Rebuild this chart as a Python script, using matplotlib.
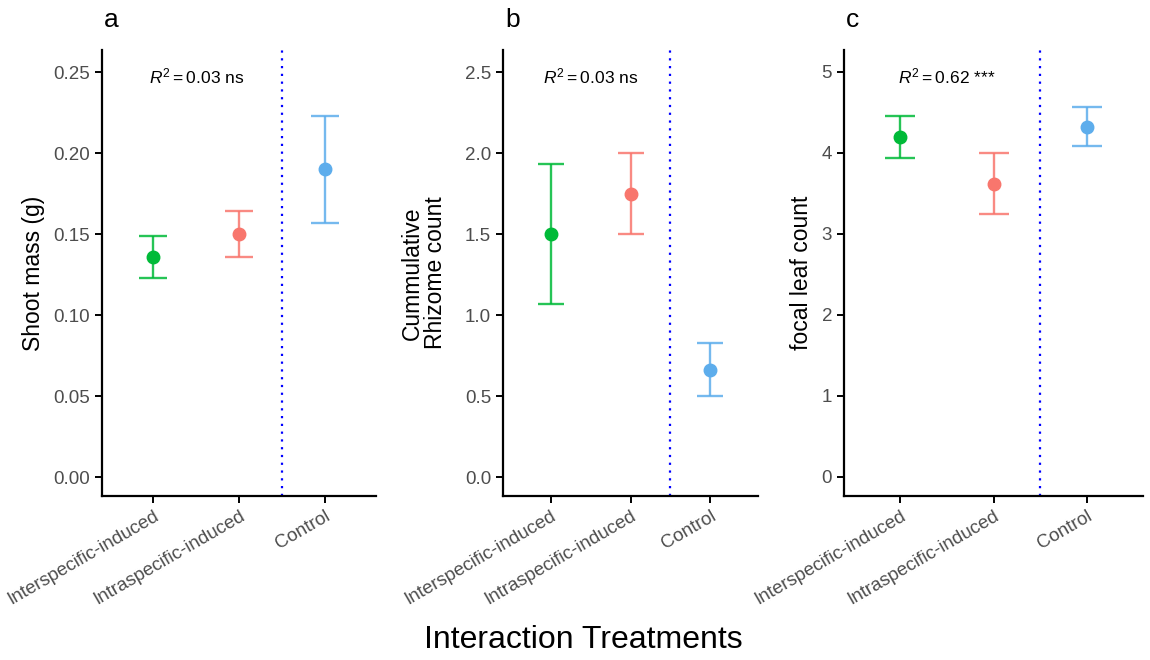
import numpy as np
import matplotlib
matplotlib.use("Agg")
import matplotlib.pyplot as plt

plt.rcParams['font.family'] = ['Liberation Sans', 'DejaVu Sans']
plt.rcParams['mathtext.fontset'] = 'custom'
plt.rcParams['mathtext.rm'] = 'Liberation Sans'
plt.rcParams['mathtext.it'] = 'Liberation Sans:italic'

# data
treatments = ["Interspecific-induced", "Intraspecific-induced", "Control"]
colors = ["#00BA38", "#F8766D", "#5DADEC"]

shoot_mean = [0.136, 0.150, 0.190]
shoot_lo = [0.123, 0.136, 0.157]
shoot_hi = [0.149, 0.164, 0.223]

rhizome_mean = [1.50, 1.75, 0.66]
rhizome_lo = [1.07, 1.50, 0.50]
rhizome_hi = [1.93, 2.00, 0.83]

leaf_mean = [4.20, 3.62, 4.32]
leaf_lo = [3.94, 3.24, 4.09]
leaf_hi = [4.45, 4.00, 4.57]

panels = [
    ("a", "Shoot mass (g)", shoot_mean, shoot_lo, shoot_hi,
     [0.00, 0.05, 0.10, 0.15, 0.20, 0.25], "%.2f", (-0.0117, 0.2636), "0.03", "ns"),
    ("b", "Cummulative\nRhizome count", rhizome_mean, rhizome_lo, rhizome_hi,
     [0.0, 0.5, 1.0, 1.5, 2.0, 2.5], "%.1f", (-0.117, 2.636), "0.03", "ns"),
    ("c", "focal leaf count", leaf_mean, leaf_lo, leaf_hi,
     [0, 1, 2, 3, 4, 5], "%d", (-0.235, 5.27), "0.62", "***"),
]

W, H = 1150, 660
fig = plt.figure(figsize=(W / 100, H / 100), dpi=100)

# axes boxes in pixels: left, width
boxes = [(102, 274), (503, 255), (844, 299)]
top_px, bot_px = 50, 496
ylab_x = [34, 424, 802]

x = np.arange(1, 4)
for i, (tag, ylab, m, lo, hi, ticks, fmt, ylim, r2, sig) in enumerate(panels):
    left, width = boxes[i]
    ax = fig.add_axes([left / W, 1 - bot_px / H, width / W, (bot_px - top_px) / H])
    unit_px = width / 3.2
    cap = 0.165 * unit_px * 72 / 100
    for j in range(3):
        ax.errorbar(x[j], m[j], yerr=[[m[j] - lo[j]], [hi[j] - m[j]]],
                    fmt="none", ecolor=colors[j], elinewidth=1.7,
                    capsize=cap, capthick=1.7, alpha=0.85)
        ax.plot(x[j], m[j], "o", color=colors[j], ms=9, zorder=3)
    ax.axvline(2.5, color="blue", linestyle=(0, (1, 2.5)), linewidth=1.6)
    ax.set_xlim(0.4, 3.6)
    ax.set_ylim(*ylim)
    ax.set_yticks(ticks)
    ax.set_yticklabels([fmt % t for t in ticks])
    ax.set_xticks(x)
    ax.set_xticklabels(treatments, rotation=30, ha="right", va="top",
                       rotation_mode="anchor")
    ax.tick_params(axis="both", colors="black", labelcolor="#4D4D4D",
                   labelsize=13.5, length=5, width=1.4)
    for s in ["top", "right"]:
        ax.spines[s].set_visible(False)
    for s in ["left", "bottom"]:
        ax.spines[s].set_linewidth(1.6)
    ax.text(1.5, ticks[-1] * 0.988, r"$\mathit{R}^2 = %s$ %s" % (r2, sig),
            ha="center", va="center", fontsize=12.5)
    fig.text(ylab_x[i] / W, 1 - (top_px + bot_px) / 2 / H, ylab, rotation=90,
             ha="center", va="center", fontsize=16.5, linespacing=1.0)
    fig.text((left + 2) / W, 1 - 20 / H, tag, ha="left", va="center", fontsize=19)

fig.text(583 / W, 1 - 640 / H, "Interaction Treatments", ha="center",
         va="center", fontsize=23)

fig.savefig("out.png", dpi=100)
